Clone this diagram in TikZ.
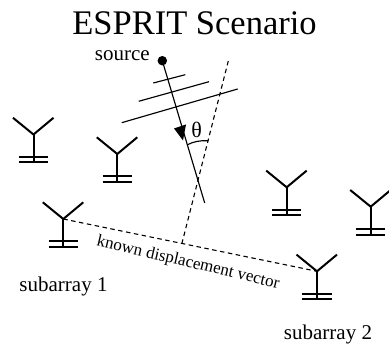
\documentclass[tikz,border=0pt]{standalone}
\usepackage{fontspec}
\setmainfont{Liberation Serif}
\tikzset{
  ant/.style={line width=2pt},
  thin line/.style={line width=1.15pt},
  dash line/.style={line width=1.1pt,dash pattern=on 4.5pt off 3.5pt},
  label/.style={inner sep=0pt,font=\fontsize{21}{24}\selectfont},
  pics/antenna/.style={code={
    \draw[ant] (-20.5,-16.7) -- (0,0) -- (20,-16.7);
    \draw[ant] (0,0) -- (0,28);
    \draw[ant] (-14.7,22.3) -- (14.7,22.3);
    \draw[ant] (-14.7,28) -- (14.7,28);
  }}
}
\begin{document}
\begin{tikzpicture}[x=1pt,y=-1pt]
\useasboundingbox (0,0) rectangle (389,344);
\node[inner sep=0pt,font=\fontsize{34.5}{38}\selectfont] (title) at (194.5,23) {ESPRIT Scenario};
\node[label,anchor=east] (srclabel) at (150,56) {source};
\node[label] (sub1) at (63.5,286) {subarray 1};
\node[label] (sub2) at (328,334) {subarray 2};

\coordinate (a1) at (33.5,134.5);
\coordinate (a2) at (117.3,154);
\coordinate (a3) at (63.3,219);
\coordinate (a4) at (286.7,187.3);
\coordinate (a5) at (370.7,206.7);
\coordinate (a6) at (317,271.3);
\foreach \n in {a1,a2,a3,a4,a5,a6} \pic at (\n) {antenna};

% source and ray
\node[circle,fill=black,inner sep=0pt,minimum size=9.5pt] (src) at (162.3,60.7) {};
\coordinate (rayend) at (204.7,203);
\draw[thin line] (src.center) -- (rayend);
\coordinate (h1) at (174,128.5);
\coordinate (h2) at (186,124.5);
\coordinate (h3) at (183,140.5);
\fill (h1) -- (h2) -- (h3) -- cycle;

% wavefronts
\coordinate (w1a) at (153.3,83);  \coordinate (w1b) at (185.3,74.7);
\coordinate (w2a) at (138.7,101.3); \coordinate (w2b) at (209,81.7);
\coordinate (w3a) at (121.7,122.7); \coordinate (w3b) at (237.7,89);
\draw[thin line] (w1a) -- (w1b);
\draw[thin line] (w2a) -- (w2b);
\draw[thin line] (w3a) -- (w3b);

% dashed
\coordinate (dtop) at (228.3,61);
\coordinate (dfoot) at (181.7,244.3);
\draw[dash line] (dtop) -- (dfoot);
\draw[dash line] (a3) -- (a6);

% angle
\coordinate (arcl) at (187,145);
\coordinate (arcr) at (208.3,140.7);
\draw[thin line] (arcl) .. controls (193,141.5) and (201,140.3) .. (arcr);
\node[inner sep=0pt,font=\fontsize{22}{24}\selectfont] (theta) at (196.7,130) {θ};

\node[inner sep=0pt,rotate=-13.2,font=\fontsize{17}{20}\selectfont] (kdv) at (188,263) {known displacement vector};
\end{tikzpicture}
\end{document}
